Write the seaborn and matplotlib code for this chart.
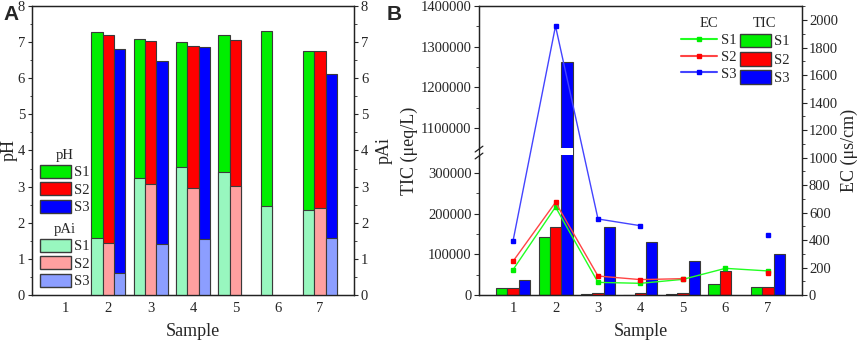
import numpy as np
import pandas as pd
import matplotlib
matplotlib.use('Agg')
import matplotlib.pyplot as plt
import seaborn as sns
from matplotlib.patches import Patch
from matplotlib.lines import Line2D
from matplotlib.ticker import FixedLocator, MultipleLocator

# ──────────────────────────────────────────────
# Data
# ──────────────────────────────────────────────
samples = ['1', '2', '3', '4', '5', '6', '7']
sites = ['S1', 'S2', 'S3']

ph_s1 = [np.nan, 7.27, 7.09, 7.00, 7.21, 7.31, 6.76]
ph_s2 = [np.nan, 7.19, 7.03, 6.89, 7.05, np.nan, 6.76]
ph_s3 = [np.nan, 6.81, 6.48, 6.87, np.nan, np.nan, 6.13]

pai_s1 = [np.nan, 1.57, 3.23, 3.55, 3.40, 2.46, 2.35]
pai_s2 = [np.nan, 1.43, 3.07, 2.95, 3.02, np.nan, 2.40]
pai_s3 = [np.nan, 0.60, 1.41, 1.54, np.nan, np.nan, 1.59]

tic_s1 = [17000, 143000, 2500, 1000, 2500, 26000, 20500]
tic_s2 = [17000, 168000, 5000, 5500, 5500, 59000, 19000]
tic_s3 = [36000, 1262000, 166000, 129000, 84000, np.nan, 100000]

ec_s1 = [184, 640, 92, 85, 114, 194, 175]
ec_s2 = [245, 674, 138, 112, 119, np.nan, 162]
ec_s3 = [393, 1956, 553, 504, np.nan, np.nan, 434]

# broken TIC axis
break_lo = 350000
break_hi = 1040000

strong = {'S1': '#00ee00', 'S2': '#ff0000', 'S3': '#0000ff'}
light = {'S1': '#98f7bf', 'S2': '#ffa0a0', 'S3': '#8c9eff'}
line_col = {'S1': '#22ff22', 'S2': '#ff4444', 'S3': '#4444ff'}
edge = '#3a3a3a'


def long_table(s1, s2, s3, name):
    d = pd.DataFrame({'sample': samples, 'S1': s1, 'S2': s2, 'S3': s3})
    return d.melt(id_vars='sample', var_name='site', value_name=name)


ph_df = long_table(ph_s1, ph_s2, ph_s3, 'pH')
pai_df = long_table(pai_s1, pai_s2, pai_s3, 'pAi')
tic_df = long_table(tic_s1, tic_s2, tic_s3, 'TIC')

# ──────────────────────────────────────────────
# Style
# ──────────────────────────────────────────────
sns.set_style('ticks')
plt.rcParams['font.family'] = ['Liberation Serif', 'DejaVu Serif']
plt.rcParams['xtick.direction'] = 'out'
plt.rcParams['ytick.direction'] = 'out'
plt.rcParams['axes.linewidth'] = 0.9
plt.rcParams['axes.edgecolor'] = '#222222'

TICK_FS = 10.5
LABEL_FS = 13

fig = plt.figure(figsize=(8.58, 3.42), dpi=100)
ax_a = fig.add_axes([0.0373, 0.1374, 0.3753, 0.8451])
ax_b = fig.add_axes([0.5583, 0.1374, 0.3764, 0.8451])

bar_kw = dict(hue='site', order=samples, hue_order=sites, errorbar=None,
              saturation=1, edgecolor=edge, linewidth=0.8, legend=False)

# ──────────────────────────────────────────────
# Panel A: pH and pAi
# ──────────────────────────────────────────────
sns.barplot(data=ph_df, x='sample', y='pH', palette=strong, ax=ax_a, **bar_kw)
ax_a2 = ax_a.twinx()
sns.barplot(data=pai_df, x='sample', y='pAi', palette=light, ax=ax_a2, **bar_kw)

for ax in (ax_a, ax_a2):
    ax.set_ylim(0, 8)
    ax.yaxis.set_major_locator(MultipleLocator(1))
    ax.yaxis.set_minor_locator(MultipleLocator(0.5))
    ax.tick_params(axis='y', labelsize=TICK_FS, length=3, pad=2)
    ax.tick_params(axis='y', which='minor', length=1.8)
    ax.set_xlim(-0.8, 6.8)
ax_a.tick_params(axis='x', length=0, labelsize=TICK_FS, pad=5)
ax_a.set_xlabel('Sample', fontsize=LABEL_FS, labelpad=6)
ax_a.set_ylabel('pH', fontsize=LABEL_FS, labelpad=0)
ax_a2.set_ylabel('pAi', fontsize=LABEL_FS, labelpad=5)

leg_kw = dict(loc='upper left', frameon=False, fontsize=TICK_FS, title_fontsize=TICK_FS,
              handlelength=2.1, handleheight=1.0, handletextpad=0.25,
              labelspacing=0.2, borderpad=0, borderaxespad=0)
leg1 = ax_a2.legend([Patch(facecolor=strong[s], edgecolor=edge) for s in sites], sites,
                    title='pH', bbox_to_anchor=(0.025, 0.505), **leg_kw)
ax_a2.add_artist(leg1)
ax_a2.legend([Patch(facecolor=light[s], edgecolor=edge) for s in sites], sites,
             title='pAi', bbox_to_anchor=(0.025, 0.250), **leg_kw)

# ──────────────────────────────────────────────
# Panel B: TIC (broken axis) and EC
# ──────────────────────────────────────────────
sns.barplot(data=tic_df, x='sample', y='TIC', palette=strong, ax=ax_b, **bar_kw)


def fwd(y):
    y = np.asarray(y, dtype=float)
    return np.where(y <= break_lo, y, np.where(y >= break_hi, y - (break_hi - break_lo), break_lo))


def inv(v):
    v = np.asarray(v, dtype=float)
    return np.where(v <= break_lo, v, v + (break_hi - break_lo))


ax_b.set_yscale('function', functions=(fwd, inv))
ax_b.set_ylim(0, 1400000)
ax_b.yaxis.set_major_locator(FixedLocator([0, 100000, 200000, 300000,
                                           1100000, 1200000, 1300000, 1400000]))
ax_b.yaxis.set_minor_locator(FixedLocator([50000, 150000, 250000,
                                           1150000, 1250000, 1350000]))
ax_b.yaxis.set_major_formatter(matplotlib.ticker.FuncFormatter(lambda v, p: f'{int(round(v))}'))
ax_b.yaxis.set_minor_formatter(matplotlib.ticker.NullFormatter())
ax_b.tick_params(axis='y', labelsize=TICK_FS, length=3.5, pad=2)
ax_b.tick_params(axis='y', which='minor', length=2)
ax_b.tick_params(axis='x', length=0, labelsize=TICK_FS, pad=5)
ax_b.set_xlim(-0.8, 6.8)
ax_b.set_xlabel('Sample', fontsize=LABEL_FS, labelpad=6)
ax_b.set_ylabel('TIC (μeq/L)', fontsize=LABEL_FS, labelpad=2)

# white gap through the bar that crosses the break
i_big = int(np.nanargmax(tic_s3))
w = 0.8 / 3
xc = i_big + w
ax_b.fill_between([xc - w / 2 - 0.02, xc + w / 2 + 0.02], 343000, 1050000,
                  color='white', zorder=5, linewidth=0)

# break marks on left spine
yb = fwd(break_lo) / fwd(1400000)
ax_b.plot([-0.012, 0.012], [yb - 0.022, yb - 0.002], transform=ax_b.transAxes,
          color='#222222', lw=0.9, clip_on=False, zorder=6)
ax_b.plot([-0.012, 0.012], [yb + 0.002, yb + 0.022], transform=ax_b.transAxes,
          color='#222222', lw=0.9, clip_on=False, zorder=6)
ax_b.plot([0, 0], [yb - 0.006, yb + 0.006], transform=ax_b.transAxes,
          color='white', lw=2, clip_on=False, zorder=5)

ax_b2 = ax_b.twinx()
xpos = np.arange(len(samples))
for s, vals in zip(sites, [ec_s1, ec_s2, ec_s3]):
    ax_b2.plot(xpos, vals, color=line_col[s], lw=1.0, marker='s', markersize=3.5,
               markerfacecolor=strong[s], markeredgecolor=strong[s])
ax_b2.set_ylim(0, 2102)
ax_b2.yaxis.set_major_locator(MultipleLocator(200))
ax_b2.yaxis.set_minor_locator(MultipleLocator(100))
ax_b2.tick_params(axis='y', labelsize=TICK_FS, length=3.5, pad=1.5)
ax_b2.tick_params(axis='y', which='minor', length=2)
ax_b2.set_ylabel('EC (μs/cm)', fontsize=LABEL_FS, labelpad=2)
ax_b2.set_xlim(-0.8, 6.8)

leg_b = dict(loc='upper left', frameon=False, fontsize=TICK_FS, title_fontsize=TICK_FS,
             handletextpad=0.25, labelspacing=0.25, borderpad=0, borderaxespad=0)
ec_leg = ax_b2.legend([Line2D([], [], color=line_col[s], marker='s', markersize=3.5,
                              markerfacecolor=strong[s], markeredgecolor=strong[s])
                       for s in sites], sites, title='EC', handlelength=2.5,
                      bbox_to_anchor=(0.625, 0.962), **leg_b)
ax_b2.add_artist(ec_leg)
ax_b2.legend([Patch(facecolor=strong[s], edgecolor=edge) for s in sites], sites,
             title='TIC', handlelength=2.1, handleheight=1.05,
             bbox_to_anchor=(0.808, 0.962), **leg_b)

# panel labels
fig.text(0.004, 0.985, 'A', fontsize=15, fontweight='bold', va='top',
         family=['Liberation Sans', 'DejaVu Sans'])
fig.text(0.451, 0.985, 'B', fontsize=15, fontweight='bold', va='top',
         family=['Liberation Sans', 'DejaVu Sans'])

fig.savefig('out.png', dpi=100)
